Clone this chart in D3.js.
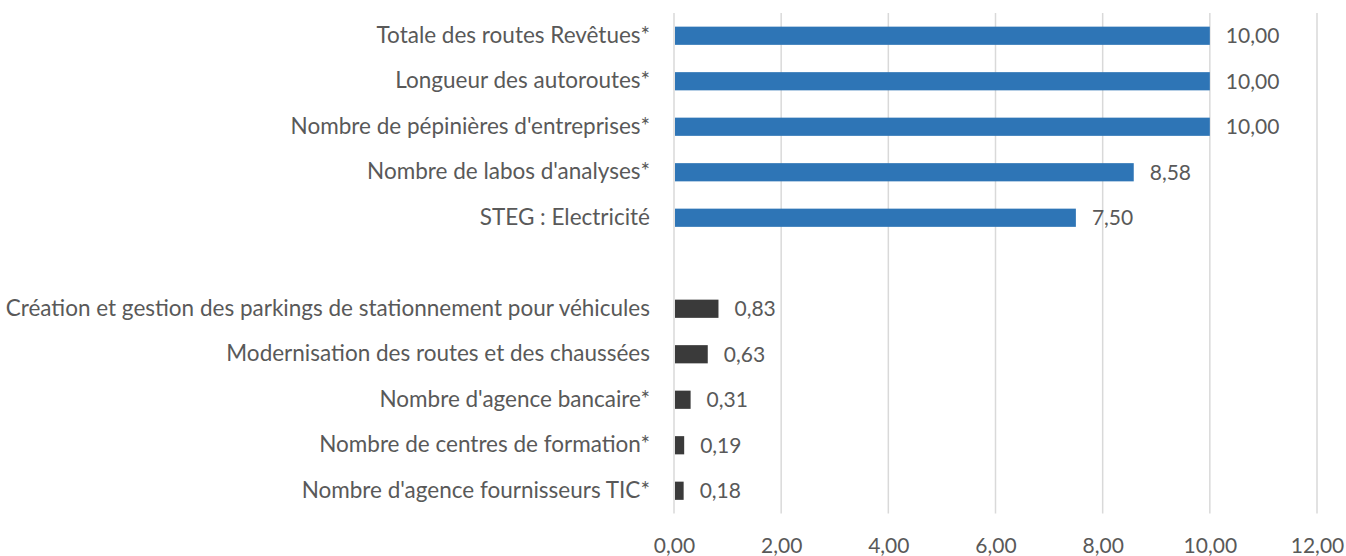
<!DOCTYPE html>
<html>
<head>
<meta charset="utf-8">
<script src="https://cdn.jsdelivr.net/npm/d3@7"></script>
<style>
  html, body { margin: 0; padding: 0; background: #ffffff; }
  svg { display: block; }
  text { font-family: Lato, "Open Sans", sans-serif; fill: #595959; }
</style>
</head>
<body>
<svg id="chart" width="1346" height="556"></svg>
<script>
// Indicator scores, top to bottom; the empty entry is a spacer row between the two groups
const categories = [
  "Totale des routes Revêtues*",
  "Longueur des autoroutes*",
  "Nombre de pépinières d'entreprises*",
  "Nombre de labos d'analyses*",
  "STEG : Electricité",
  "",
  "Création et gestion des parkings de stationnement pour véhicules",
  "Modernisation des routes et des chaussées",
  "Nombre d'agence bancaire*",
  "Nombre de centres de formation*",
  "Nombre d'agence fournisseurs TIC*"
];
const values = [10.00, 10.00, 10.00, 8.58, 7.50, null, 0.83, 0.63, 0.31, 0.19, 0.18];
const groups = ["top", "top", "top", "top", "top", "gap", "low", "low", "low", "low", "low"];
const xTicks = [0, 2, 4, 6, 8, 10, 12];

const colors = { top: "#2E75B6", low: "#3A3A3A" };
const labelSize = "22.5px";
const numberSize = "21px";

const rows = categories.map((name, i) => ({ id: i, name, value: values[i], group: groups[i] }));

const svg = d3.select("#chart");
const plotLeft = 674, plotRight = 1317, plotTop = 13, plotBottom = 513.5;

const x = d3.scaleLinear().domain([0, 12]).range([plotLeft, plotRight]);
const y = d3.scaleBand().domain(rows.map(d => d.id)).range([plotTop, plotBottom]).paddingInner(0.6).paddingOuter(0.3);

const fmt = v => v.toFixed(2).replace(".", ",");

// vertical gridlines
svg.append("g")
  .selectAll("line")
  .data(xTicks)
  .join("line")
  .attr("x1", d => x(d)).attr("x2", d => x(d))
  .attr("y1", plotTop).attr("y2", plotBottom)
  .attr("stroke", "#D9D9D9")
  .attr("stroke-width", 1.5);

// x axis tick labels
const xAxis = d3.axisBottom(x).tickValues(xTicks).tickFormat(fmt).tickSize(0).tickPadding(0);
const gx = svg.append("g").attr("transform", `translate(0,${plotBottom})`).call(xAxis);
gx.select(".domain").remove();
gx.selectAll("text")
  .attr("y", 39)
  .attr("dy", 0)
  .style("font-family", "Lato, 'Open Sans', sans-serif")
  .style("font-size", numberSize)
  .attr("fill", "#595959");

// category labels
const yAxis = d3.axisLeft(y).tickFormat(id => rows[id].name).tickSize(0).tickPadding(0);
const gy = svg.append("g").attr("transform", `translate(${plotLeft - 24},0)`).call(yAxis);
gy.select(".domain").remove();
gy.selectAll("text")
  .style("font-family", "Lato, 'Open Sans', sans-serif")
  .style("font-size", labelSize)
  .attr("fill", "#595959");

const data = rows.filter(d => d.value !== null);

// bars
svg.append("g")
  .selectAll("rect")
  .data(data)
  .join("rect")
  .attr("x", x(0) + 1)
  .attr("y", d => y(d.id))
  .attr("width", d => x(d.value) - x(0) - 1)
  .attr("height", y.bandwidth())
  .attr("fill", d => colors[d.group]);

// value labels
svg.append("g")
  .selectAll("text")
  .data(data)
  .join("text")
  .attr("x", d => x(d.value) + 16)
  .attr("y", d => y(d.id) + y.bandwidth() / 2)
  .attr("dy", "0.35em")
  .style("font-size", numberSize)
  .text(d => fmt(d.value));
</script>
</body>
</html>
